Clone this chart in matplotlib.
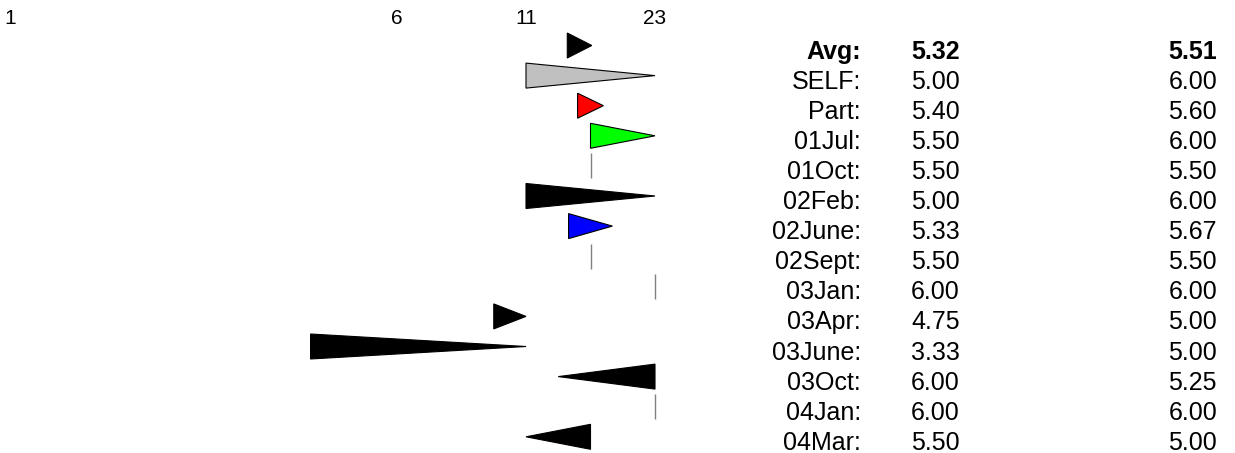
import matplotlib

matplotlib.use("Agg")
import matplotlib.pyplot as plt
from matplotlib.patches import Polygon
from matplotlib import transforms

plt.rcParams["font.family"] = ["Liberation Sans", "DejaVu Sans"]

# rows, top to bottom
row_labels = ["Avg", "SELF", "Part", "01Jul", "01Oct", "02Feb", "02June",
              "02Sept", "03Jan", "03Apr", "03June", "03Oct", "04Jan", "04Mar"]
start_values = [5.32, 5.00, 5.40, 5.50, 5.50, 5.00, 5.33,
                5.50, 6.00, 4.75, 3.33, 6.00, 6.00, 5.50]
end_values = [5.51, 6.00, 5.60, 6.00, 5.50, 6.00, 5.67,
              5.50, 6.00, 5.00, 5.00, 5.25, 6.00, 5.00]
fill_colors = ["#000000", "#c0c0c0", "#ff0000", "#00ff00", "#000000", "#000000", "#0000ff",
               "#000000", "#000000", "#000000", "#000000", "#000000", "#000000", "#000000"]

# top scale
tick_values = [1, 4, 5, 6]
tick_labels = ["1", "6", "11", "23"]

W, H = 1235, 453
fig = plt.figure(figsize=(W / 100, H / 100), dpi=100)

# axes spans full width, starts 30 px below top so tick labels sit above it
top_px = 30
ax = fig.add_axes([0, 0, 1, (H - top_px) / H])
ax.set_facecolor("white")

# scale: 129 px per unit, value 5 at x=526 px
px_per_unit = 129.0
ax.set_xlim(5 - 526 / px_per_unit, 5 + (W - 526) / px_per_unit)

# rows: centre of row 0 at 45.5 px, spacing 30.1 px
row0_px, row_step = 45.5, 30.1
ax.set_ylim((H - row0_px) / row_step, (top_px - row0_px) / row_step)

half_h = 12.5 / row_step
for r, (a, b, col) in enumerate(zip(start_values, end_values, fill_colors)):
    if a == b:
        ax.vlines(a, r - half_h, r + half_h, color="#808080", lw=1.0)
        continue
    tri = Polygon([(a, r - half_h), (a, r + half_h), (b, r)], closed=True,
                  facecolor=col, edgecolor="black", lw=0.8)
    ax.add_patch(tri)

ax.set_xticks(tick_values)
ax.set_xticklabels(tick_labels)
ax.xaxis.tick_top()
ax.tick_params(axis="x", length=0, pad=1.5, labelsize=15)
ax.set_yticks([])
for sp in ax.spines.values():
    sp.set_visible(False)

# value table on the right
table_size = 18
trans = transforms.blended_transform_factory(fig.transFigure, ax.transData)
text_dy = (4 + 0.36 * table_size * 100 / 72) / row_step
for r, (lab, a, b) in enumerate(zip(row_labels, start_values, end_values)):
    weight = "bold" if r == 0 else "normal"
    y = r + text_dy
    ax.text(861 / W, y, f"{lab}:", transform=trans, ha="right", va="baseline",
            fontsize=table_size, fontweight=weight)
    ax.text(911 / W, y, f"{a:.2f}", transform=trans, ha="left", va="baseline",
            fontsize=table_size, fontweight=weight)
    ax.text(1217 / W, y, f"{b:.2f}", transform=trans, ha="right", va="baseline",
            fontsize=table_size, fontweight=weight)

fig.savefig("out.png", dpi=100, facecolor="white")
plt.close(fig)
